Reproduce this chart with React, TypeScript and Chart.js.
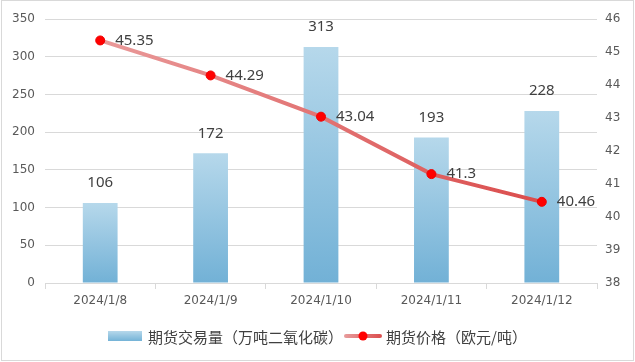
import React, { useEffect, useRef } from "react";
import { Chart, registerables } from "chart.js";

Chart.register(...registerables);

const categories = ["2024/1/8", "2024/1/9", "2024/1/10", "2024/1/11", "2024/1/12"];
const volume = [106, 172, 313, 193, 228];
const price = [45.35, 44.29, 43.04, 41.3, 40.46];
const volumeLabel = "期货交易量（万吨二氧化碳）";
const priceLabel = "期货价格（欧元/吨）";

const LABEL_FONT = "15px 'Noto Sans', 'DejaVu Sans', sans-serif";
const LEGEND_FONT = "15px 'Noto Sans CJK SC', sans-serif";

const overlayPlugin = {
  id: "overlay",
  afterDatasetsDraw(chart: any) {
    const ctx = chart.ctx;
    ctx.save();
    ctx.fillStyle = "#404040";
    ctx.font = LABEL_FONT;
    const barMeta = chart.getDatasetMeta(0);
    barMeta.data.forEach((el: any, i: number) => {
      ctx.textAlign = "center";
      ctx.textBaseline = "middle";
      ctx.fillText(String(volume[i]), el.x, el.y - 20);
    });
    const lineMeta = chart.getDatasetMeta(1);
    lineMeta.data.forEach((el: any, i: number) => {
      ctx.textAlign = "left";
      ctx.textBaseline = "middle";
      ctx.fillText(String(price[i]), el.x + 15, el.y);
    });
    ctx.restore();
  },
  afterDraw(chart: any) {
    const ctx = chart.ctx;
    ctx.save();
    ctx.strokeStyle = "#D9D9D9";
    ctx.lineWidth = 1;
    ctx.strokeRect(1.5, 0.5, 632, 360);
    const ly = 336;
    const g = ctx.createLinearGradient(0, ly - 5, 0, ly + 5);
    g.addColorStop(0, "#B6D8EB");
    g.addColorStop(1, "#74B3D7");
    ctx.fillStyle = g;
    ctx.fillRect(108, ly - 5, 34, 10);
    ctx.font = LEGEND_FONT;
    ctx.fillStyle = "#404040";
    ctx.textAlign = "left";
    ctx.textBaseline = "middle";
    ctx.fillText(volumeLabel, 148, ly + 1);
    const lg = ctx.createLinearGradient(345, 0, 381, 0);
    lg.addColorStop(0, "#E79A9A");
    lg.addColorStop(1, "#DC5050");
    ctx.strokeStyle = lg;
    ctx.lineWidth = 4;
    ctx.lineCap = "round";
    ctx.beginPath();
    ctx.moveTo(346, ly);
    ctx.lineTo(380, ly);
    ctx.stroke();
    ctx.fillStyle = "#FF0000";
    ctx.beginPath();
    ctx.arc(363, ly, 4.5, 0, Math.PI * 2);
    ctx.fill();
    ctx.fillStyle = "#404040";
    ctx.fillText(priceLabel, 386, ly + 1);
    ctx.restore();
  },
};

export default function App() {
  const ref = useRef<HTMLCanvasElement>(null);
  useEffect(() => {
    document.body.style.margin = "0";
    const canvas = ref.current!;
    const chart = new Chart(canvas, {
      type: "bar",
      data: {
        labels: categories,
        datasets: [
          {
            type: "bar",
            label: volumeLabel,
            data: volume,
            yAxisID: "y",
            order: 2,
            categoryPercentage: 1,
            barPercentage: 0.315,
            backgroundColor: (c: any) => {
              const ch = c.chart;
              const ys = ch.scales?.y;
              if (!ys || c.dataIndex === undefined || c.type !== "data") return "#9AC7E2";
              const top = ys.getPixelForValue(volume[c.dataIndex]);
              const bottom = ys.getPixelForValue(0);
              if (!isFinite(top) || !isFinite(bottom) || top === bottom) return "#9AC7E2";
              const g = ch.ctx.createLinearGradient(0, top, 0, bottom);
              g.addColorStop(0, "#B6D8EB");
              g.addColorStop(1, "#72B1D6");
              return g;
            },
            borderWidth: 0,
          } as any,
          {
            type: "line",
            label: priceLabel,
            data: price,
            yAxisID: "y1",
            order: 1,
            borderWidth: 4,
            borderCapStyle: "round",
            borderColor: (c: any) => {
              const ca = c.chart.chartArea;
              if (!ca) return "#E07070";
              const g = c.chart.ctx.createLinearGradient(ca.left, 0, ca.right, 0);
              g.addColorStop(0, "#EBA3A3");
              g.addColorStop(1, "#D94343");
              return g;
            },
            pointRadius: 4.5,
            pointBackgroundColor: "#FF0000",
            pointBorderColor: "#F00000",
            pointBorderWidth: 1,
            tension: 0,
          } as any,
        ],
      },
      options: {
        responsive: false,
        animation: false,
        devicePixelRatio: 1,
        layout: { padding: { top: 19, left: 0, right: 0, bottom: 0 } },
        plugins: {
          legend: { display: false },
          tooltip: { enabled: false },
        },
        scales: {
          x: {
            offset: true,
            grid: {
              display: true,
              offset: true,
              drawOnChartArea: false,
              drawTicks: true,
              tickLength: 6,
              color: "#D9D9D9",
            },
            border: { color: "#D9D9D9" },
            ticks: {
              color: "#595959",
              font: { family: "'DejaVu Sans', sans-serif", size: 12 },
              padding: 5,
              maxRotation: 0,
            },
            afterFit: (s: any) => {
              s.height = 79;
            },
          },
          y: {
            position: "left",
            min: 0,
            max: 350,
            ticks: {
              stepSize: 50,
              color: "#595959",
              font: { family: "'DejaVu Sans', sans-serif", size: 12 },
              padding: 10,
            },
            grid: { color: "#D9D9D9", drawTicks: false },
            border: { display: false },
            afterFit: (s: any) => {
              s.width = 45;
            },
          },
          y1: {
            position: "right",
            min: 38,
            max: 46,
            ticks: {
              stepSize: 1,
              color: "#595959",
              font: { family: "'DejaVu Sans', sans-serif", size: 12 },
              padding: 8,
            },
            grid: { display: false, drawTicks: false },
            border: { display: false },
            afterFit: (s: any) => {
              s.width = 38;
            },
          },
        },
      },
      plugins: [overlayPlugin],
    });
    return () => chart.destroy();
  }, []);
  return (
    <div style={{ position: "absolute", left: 0, top: 0, width: 635, height: 362 }}>
      <canvas ref={ref} width={635} height={362} style={{ display: "block", width: 635, height: 362 }} />
    </div>
  );
}
